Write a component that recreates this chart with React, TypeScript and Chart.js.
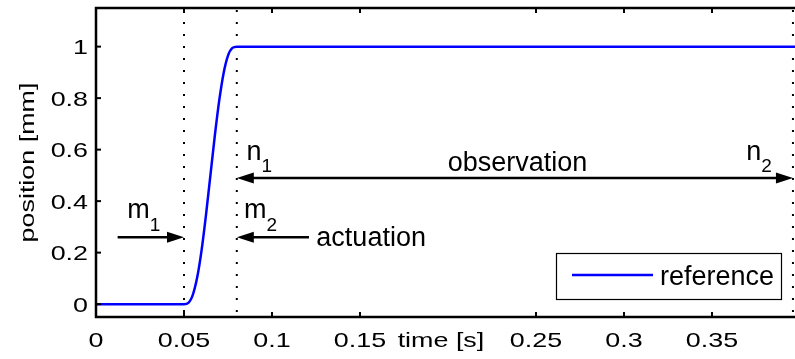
import React, { useEffect, useRef } from "react";
import { Chart, registerables } from "chart.js";

Chart.register(...registerables);

// ---- data ----
const timeS = [0, 0.05, 0.0525, 0.055, 0.0575, 0.06, 0.0625, 0.065, 0.0675, 0.07, 0.0725, 0.075, 0.0775, 0.08, 0.4];
const positionMm = [0, 0, 0.005, 0.036, 0.104, 0.21, 0.347, 0.5, 0.653, 0.79, 0.897, 0.965, 0.995, 1, 1];
const seriesLabel = "reference";

const xTickValues = [0, 0.05, 0.1, 0.15, 0.25, 0.3, 0.35];
const xTickLabels = ["0", "0.05", "0.1", "0.15", "0.25", "0.3", "0.35"];
const yTickValues = [0, 0.2, 0.4, 0.6, 0.8, 1];
const yTickLabels = ["0", "0.2", "0.4", "0.6", "0.8", "1"];
const xLabel = "time [s]";
const xLabelAt = 0.196;
const yLabel = "position [mm]";

const markerTimes = [0.05, 0.08, 0.396];
// arrows: [xFrom, xTo, y, headAtFrom, headAtTo]
const arrowFrom = [0.0123, 0.121, 0.08];
const arrowTo = [0.05, 0.08, 0.396];
const arrowY = [0.26, 0.26, 0.49];
const arrowHeadFrom = [false, false, true];
const arrowHeadTo = [true, true, true];
// annotations: main text, subscript, x (left), y (baseline)
const noteMain = ["m", "m", "n", "n", "observation", "actuation"];
const noteSub = ["1", "2", "1", "2", "", ""];
const noteX = [0.0178, 0.0841, 0.0855, 0.3695, 0.1998, 0.1252];
const noteY = [0.333, 0.333, 0.56, 0.56, 0.517, 0.226];

const FAMILY = '"Liberation Sans", Arial, Helvetica, sans-serif';
const AXIS_FONT = `21px ${FAMILY}`;
const AXIS_STRETCH = 1.28;
const NOTE_FONT = `27px ${FAMILY}`;
const SUB_FONT = `19px ${FAMILY}`;

function stretchedText(ctx: CanvasRenderingContext2D, text: string, x: number, y: number, align: CanvasTextAlign, rot = 0) {
  ctx.save();
  ctx.translate(x, y);
  if (rot) ctx.rotate(rot);
  ctx.scale(AXIS_STRETCH, 1);
  ctx.font = AXIS_FONT;
  ctx.textAlign = align;
  ctx.textBaseline = "alphabetic";
  ctx.fillStyle = "#000";
  ctx.fillText(text, 0, 0);
  ctx.restore();
}

function arrowHead(ctx: CanvasRenderingContext2D, tipX: number, tipY: number, dir: number) {
  const len = 17;
  const half = 5.5;
  ctx.beginPath();
  ctx.moveTo(tipX, tipY);
  ctx.lineTo(tipX - dir * len, tipY - half);
  ctx.lineTo(tipX - dir * len, tipY + half);
  ctx.closePath();
  ctx.fill();
}

const overlay = {
  id: "overlay",
  beforeDatasetsDraw(chart: any) {
    const { ctx, chartArea, scales } = chart;
    ctx.save();
    ctx.strokeStyle = "#000";
    ctx.lineWidth = 2;
    ctx.setLineDash([2, 10]);
    markerTimes.forEach((t) => {
      const px = scales.x.getPixelForValue(t);
      ctx.beginPath();
      ctx.moveTo(px, chartArea.top + 2);
      ctx.lineTo(px, chartArea.bottom);
      ctx.stroke();
    });
    ctx.restore();
  },
  afterDatasetsDraw(chart: any) {
    const { ctx, chartArea, scales } = chart;
    const xs = scales.x;
    const ys = scales.y;
    ctx.save();
    ctx.strokeStyle = "#000";
    ctx.fillStyle = "#000";

    // ticks (inward)
    ctx.lineWidth = 2;
    xTickValues.forEach((v) => {
      const px = xs.getPixelForValue(v);
      ctx.beginPath();
      ctx.moveTo(px, chartArea.bottom);
      ctx.lineTo(px, chartArea.bottom - 5);
      ctx.moveTo(px, chartArea.top);
      ctx.lineTo(px, chartArea.top + 5);
      ctx.stroke();
    });
    yTickValues.forEach((v) => {
      const py = ys.getPixelForValue(v);
      ctx.beginPath();
      ctx.moveTo(chartArea.left, py);
      ctx.lineTo(chartArea.left + 5, py);
      ctx.stroke();
    });

    // frame
    ctx.lineWidth = 2.5;
    ctx.strokeRect(chartArea.left, chartArea.top, chartArea.right - chartArea.left, chartArea.bottom - chartArea.top);

    // tick labels
    xTickValues.forEach((v, i) => {
      stretchedText(ctx, xTickLabels[i], xs.getPixelForValue(v), chartArea.bottom + 30, "center");
    });
    yTickValues.forEach((v, i) => {
      stretchedText(ctx, yTickLabels[i], chartArea.left - 8, ys.getPixelForValue(v) + 7.5, "right");
    });
    stretchedText(ctx, xLabel, xs.getPixelForValue(xLabelAt), chartArea.bottom + 30, "center");
    stretchedText(ctx, yLabel, 33.5, (chartArea.top + chartArea.bottom) / 2, "center", -Math.PI / 2);

    // arrows
    ctx.lineWidth = 2.5;
    arrowFrom.forEach((f, i) => {
      const x1 = xs.getPixelForValue(f);
      const x2 = xs.getPixelForValue(arrowTo[i]);
      const py = ys.getPixelForValue(arrowY[i]);
      const dir = Math.sign(x2 - x1);
      const a = arrowHeadFrom[i] ? x1 + dir * 12 : x1;
      const b = arrowHeadTo[i] ? x2 - dir * 12 : x2;
      ctx.beginPath();
      ctx.moveTo(a, py);
      ctx.lineTo(b, py);
      ctx.stroke();
      if (arrowHeadTo[i]) arrowHead(ctx, x2, py, dir);
      if (arrowHeadFrom[i]) arrowHead(ctx, x1, py, -dir);
    });

    // annotations
    ctx.textAlign = "left";
    ctx.textBaseline = "alphabetic";
    noteMain.forEach((m, i) => {
      const px = xs.getPixelForValue(noteX[i]);
      const py = ys.getPixelForValue(noteY[i]);
      ctx.font = NOTE_FONT;
      ctx.fillText(m, px, py);
      if (noteSub[i]) {
        const w = ctx.measureText(m).width;
        ctx.font = SUB_FONT;
        ctx.fillText(noteSub[i], px + w, py + 12.5);
      }
    });

    // legend
    const ds = chart.data.datasets[0];
    const bw = 225;
    const bh = 46;
    const bx = chartArea.right - 19 - bw;
    const by = chartArea.bottom - 18 - bh;
    ctx.fillStyle = "#fff";
    ctx.fillRect(bx, by, bw, bh);
    ctx.lineWidth = 1.2;
    ctx.strokeStyle = "#000";
    ctx.strokeRect(bx + 0.5, by + 0.5, bw, bh);
    ctx.strokeStyle = ds.borderColor;
    ctx.lineWidth = 2.5;
    ctx.beginPath();
    ctx.moveTo(bx + 16, by + bh / 2 - 1);
    ctx.lineTo(bx + 97, by + bh / 2 - 1);
    ctx.stroke();
    ctx.fillStyle = "#000";
    ctx.font = NOTE_FONT;
    ctx.fillText(ds.label, bx + 104, by + 32);

    ctx.restore();
  },
};

export default function App() {
  const ref = useRef<HTMLCanvasElement | null>(null);
  useEffect(() => {
    if (!ref.current) return;
    const chart = new Chart(ref.current, {
      type: "line",
      data: {
        datasets: [
          {
            label: seriesLabel,
            data: timeS.map((t, i) => ({ x: t, y: positionMm[i] })),
            borderColor: "#0000ff",
            borderWidth: 2.5,
            pointRadius: 0,
            cubicInterpolationMode: "monotone",
            fill: false,
          },
        ],
      },
      options: {
        animation: false,
        responsive: false,
        devicePixelRatio: 1,
        events: [],
        layout: { padding: { left: 96, top: 8, right: 15, bottom: 42 } },
        scales: {
          x: { type: "linear", min: 0, max: 0.4, display: false },
          y: { type: "linear", min: -0.05, max: 1.15, display: false },
        },
        plugins: { legend: { display: false }, tooltip: { enabled: false } },
      },
      plugins: [overlay],
    } as any);
    return () => chart.destroy();
  }, []);
  return (
    <div style={{ position: "fixed", left: 0, top: 0, width: 795, height: 359, overflow: "hidden", background: "#fff" }}>
      <canvas ref={ref} width={815} height={359} style={{ display: "block" }} />
    </div>
  );
}
